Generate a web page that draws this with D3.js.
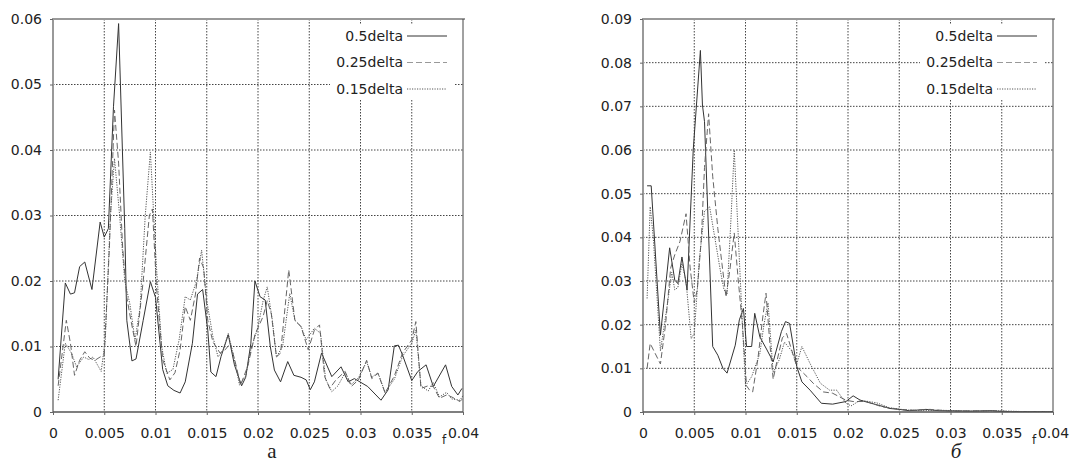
<!DOCTYPE html>
<html>
<head>
<meta charset="utf-8">
<script src="https://cdn.jsdelivr.net/npm/d3@7"></script>
<style>
  body { margin: 0; background: #fff; }
  svg { display: block; }
  text { font-family: "DejaVu Sans", sans-serif; fill: #222; }
</style>
</head>
<body>
<div id="chart"></div>
<script>
// frequency ticks, shared by both panels
var xTicks = [0, 0.005, 0.01, 0.015, 0.02, 0.025, 0.03, 0.035, 0.04];
var xLabels = ["0", "0.005", "0.01", "0.015", "0.02", "0.025", "0.03", "0.035", "0.04"];
var seriesNames = ["0.5delta", "0.25delta", "0.15delta"];

// panel a
var leftTicks = [0, 0.01, 0.02, 0.03, 0.04, 0.05, 0.06];
var leftLabels = ["0", "0.01", "0.02", "0.03", "0.04", "0.05", "0.06"];
var leftSolid = [[0.0005,0.0050],[0.0012,0.0197],[0.0017,0.0180],[0.0021,0.0182],[0.0026,0.0222],[0.0031,0.0229],[0.0038,0.0187],[0.0046,0.0290],[0.0050,0.0267],[0.0054,0.0280],[0.0059,0.0466],[0.0064,0.0593],[0.0070,0.0280],[0.0072,0.0140],[0.0077,0.0078],[0.0081,0.0081],[0.0088,0.0140],[0.0095,0.0199],[0.0100,0.0175],[0.0107,0.0065],[0.0112,0.0040],[0.0118,0.0033],[0.0124,0.0029],[0.0129,0.0046],[0.0136,0.0105],[0.0141,0.0180],[0.0146,0.0187],[0.0151,0.0125],[0.0154,0.0061],[0.0159,0.0054],[0.0164,0.0085],[0.0171,0.0118],[0.0177,0.0072],[0.0184,0.0040],[0.0188,0.0053],[0.0193,0.0104],[0.0197,0.0200],[0.0202,0.0176],[0.0207,0.0171],[0.0212,0.0100],[0.0216,0.0064],[0.0222,0.0046],[0.0229,0.0077],[0.0235,0.0056],[0.0242,0.0053],[0.0247,0.0049],[0.0251,0.0034],[0.0255,0.0046],[0.0262,0.0090],[0.0272,0.0054],[0.0281,0.0069],[0.0288,0.0046],[0.0294,0.0051],[0.0307,0.0039],[0.0320,0.0018],[0.0327,0.0034],[0.0333,0.0101],[0.0337,0.0102],[0.0341,0.0087],[0.0350,0.0048],[0.0356,0.0062],[0.0364,0.0072],[0.0371,0.0039],[0.0383,0.0072],[0.0389,0.0039],[0.0395,0.0026],[0.0399,0.0036]];
var leftDashed = [[0.0005,0.0040],[0.0013,0.0140],[0.0017,0.0105],[0.0021,0.0056],[0.0026,0.0079],[0.0031,0.0092],[0.0036,0.0082],[0.0041,0.0079],[0.0046,0.0084],[0.0050,0.0087],[0.0055,0.0250],[0.0060,0.0461],[0.0064,0.0380],[0.0068,0.0250],[0.0072,0.0175],[0.0076,0.0140],[0.0081,0.0100],[0.0088,0.0200],[0.0094,0.0300],[0.0097,0.0310],[0.0101,0.0190],[0.0107,0.0080],[0.0114,0.0049],[0.0119,0.0060],[0.0124,0.0095],[0.0129,0.0161],[0.0134,0.0140],[0.0139,0.0180],[0.0143,0.0235],[0.0147,0.0220],[0.0151,0.0140],[0.0156,0.0107],[0.0163,0.0090],[0.0168,0.0095],[0.0173,0.0105],[0.0178,0.0075],[0.0183,0.0041],[0.0190,0.0070],[0.0197,0.0118],[0.0205,0.0146],[0.0209,0.0170],[0.0213,0.0150],[0.0218,0.0084],[0.0222,0.0090],[0.0230,0.0217],[0.0236,0.0140],[0.0242,0.0130],[0.0249,0.0095],[0.0255,0.0125],[0.0260,0.0133],[0.0265,0.0054],[0.0270,0.0036],[0.0276,0.0049],[0.0285,0.0062],[0.0291,0.0039],[0.0298,0.0049],[0.0306,0.0079],[0.0311,0.0051],[0.0317,0.0059],[0.0324,0.0029],[0.0333,0.0055],[0.0341,0.0090],[0.0350,0.0110],[0.0354,0.0138],[0.0359,0.0036],[0.0366,0.0040],[0.0371,0.0039],[0.0377,0.0021],[0.0384,0.0026],[0.0389,0.0023],[0.0397,0.0016],[0.0400,0.0021]];
var leftDotted = [[0.0005,0.0018],[0.0012,0.0105],[0.0018,0.0090],[0.0023,0.0069],[0.0030,0.0084],[0.0035,0.0080],[0.0039,0.0084],[0.0047,0.0062],[0.0051,0.0110],[0.0056,0.0300],[0.0060,0.0387],[0.0065,0.0300],[0.0070,0.0200],[0.0075,0.0165],[0.0080,0.0110],[0.0085,0.0160],[0.0090,0.0300],[0.0095,0.0397],[0.0101,0.0220],[0.0106,0.0100],[0.0111,0.0059],[0.0117,0.0065],[0.0123,0.0110],[0.0129,0.0176],[0.0134,0.0171],[0.0140,0.0200],[0.0145,0.0247],[0.0150,0.0170],[0.0156,0.0115],[0.0161,0.0084],[0.0166,0.0095],[0.0171,0.0120],[0.0177,0.0080],[0.0182,0.0041],[0.0188,0.0055],[0.0193,0.0095],[0.0200,0.0130],[0.0205,0.0170],[0.0209,0.0191],[0.0214,0.0140],[0.0218,0.0084],[0.0224,0.0100],[0.0231,0.0181],[0.0236,0.0140],[0.0242,0.0131],[0.0247,0.0110],[0.0255,0.0128],[0.0261,0.0120],[0.0266,0.0050],[0.0272,0.0031],[0.0278,0.0040],[0.0285,0.0060],[0.0291,0.0042],[0.0298,0.0052],[0.0306,0.0077],[0.0311,0.0053],[0.0317,0.0060],[0.0324,0.0030],[0.0333,0.0050],[0.0341,0.0085],[0.0350,0.0105],[0.0354,0.0125],[0.0359,0.0040],[0.0366,0.0032],[0.0371,0.0045],[0.0377,0.0023],[0.0384,0.0030],[0.0389,0.0020],[0.0397,0.0018],[0.0400,0.0025]];

// panel б
var rightTicks = [0, 0.01, 0.02, 0.03, 0.04, 0.05, 0.06, 0.07, 0.08, 0.09];
var rightLabels = ["0", "0.01", "0.02", "0.03", "0.04", "0.05", "0.06", "0.07", "0.08", "0.09"];
var rightSolid = [[0.0004,0.0518],[0.0008,0.0518],[0.0017,0.0176],[0.0026,0.0376],[0.0031,0.0302],[0.0034,0.0294],[0.0038,0.0355],[0.0043,0.0279],[0.0049,0.0600],[0.0056,0.0828],[0.0058,0.0703],[0.0060,0.0665],[0.0068,0.0150],[0.0073,0.0130],[0.0078,0.0100],[0.0082,0.0089],[0.0090,0.0153],[0.0094,0.0211],[0.0098,0.0237],[0.0101,0.0150],[0.0106,0.0150],[0.0109,0.0226],[0.0114,0.0172],[0.0121,0.0142],[0.0127,0.0115],[0.0135,0.0184],[0.0139,0.0207],[0.0143,0.0203],[0.0150,0.0104],[0.0155,0.0069],[0.0163,0.0050],[0.0174,0.0020],[0.0185,0.0018],[0.0198,0.0024],[0.0205,0.0037],[0.0212,0.0027],[0.0221,0.0021],[0.0229,0.0016],[0.0241,0.0008],[0.0250,0.0006],[0.0260,0.0003],[0.0276,0.0006],[0.0289,0.0003],[0.0320,0.0002],[0.0341,0.0003],[0.0350,0.0001],[0.0400,0.0001]];
var rightDashed = [[0.0004,0.0100],[0.0007,0.0157],[0.0017,0.0110],[0.0022,0.0200],[0.0027,0.0330],[0.0031,0.0360],[0.0036,0.0390],[0.0042,0.0454],[0.0046,0.0330],[0.0050,0.0250],[0.0053,0.0280],[0.0057,0.0400],[0.0060,0.0560],[0.0064,0.0683],[0.0068,0.0540],[0.0073,0.0420],[0.0077,0.0340],[0.0081,0.0263],[0.0085,0.0330],[0.0089,0.0410],[0.0093,0.0300],[0.0097,0.0200],[0.0101,0.0060],[0.0104,0.0050],[0.0107,0.0046],[0.0112,0.0120],[0.0117,0.0220],[0.0120,0.0272],[0.0124,0.0150],[0.0127,0.0075],[0.0131,0.0120],[0.0136,0.0170],[0.0140,0.0180],[0.0144,0.0150],[0.0150,0.0104],[0.0160,0.0081],[0.0166,0.0066],[0.0176,0.0046],[0.0185,0.0043],[0.0198,0.0027],[0.0205,0.0024],[0.0218,0.0024],[0.0233,0.0012],[0.0250,0.0006],[0.0265,0.0004],[0.0280,0.0006],[0.0300,0.0002],[0.0340,0.0003],[0.0360,0.0001],[0.0400,0.0001]];
var rightDotted = [[0.0004,0.0260],[0.0007,0.0470],[0.0010,0.0400],[0.0017,0.0140],[0.0024,0.0250],[0.0028,0.0320],[0.0031,0.0280],[0.0034,0.0285],[0.0038,0.0340],[0.0042,0.0300],[0.0047,0.0168],[0.0050,0.0180],[0.0055,0.0350],[0.0060,0.0460],[0.0065,0.0470],[0.0070,0.0400],[0.0075,0.0330],[0.0079,0.0280],[0.0082,0.0270],[0.0086,0.0450],[0.0089,0.0600],[0.0093,0.0400],[0.0097,0.0200],[0.0100,0.0060],[0.0106,0.0081],[0.0114,0.0134],[0.0118,0.0200],[0.0122,0.0250],[0.0127,0.0090],[0.0133,0.0120],[0.0138,0.0160],[0.0145,0.0140],[0.0150,0.0110],[0.0155,0.0150],[0.0163,0.0111],[0.0173,0.0066],[0.0182,0.0050],[0.0189,0.0050],[0.0198,0.0020],[0.0203,0.0014],[0.0212,0.0027],[0.0228,0.0021],[0.0240,0.0010],[0.0255,0.0005],[0.0270,0.0003],[0.0290,0.0004],[0.0320,0.0002],[0.0345,0.0003],[0.0370,0.0001],[0.0400,0.0001]];

var styles = [
  {stroke: "#333", dash: null},
  {stroke: "#666", dash: "6,3"},
  {stroke: "#555", dash: "1.2,1.3"}
];

var svg = d3.select("#chart").append("svg")
  .attr("width", 1072)
  .attr("height", 464);

svg.append("rect").attr("width", 1072).attr("height", 464).attr("fill", "#fff");

function drawPanel(left, yTicks, yLabels, series, caption, italic) {
  var top = 19, bottom = 412, w = 410;
  var g = svg.append("g").attr("transform", "translate(" + left + ",0)");

  var x = d3.scaleLinear().domain([0, 0.04]).range([0, w]);
  var y = d3.scaleLinear().domain([0, yTicks[yTicks.length - 1]]).range([bottom, top]);

  // grid
  g.selectAll(".vg").data(xTicks.slice(1, -1)).enter().append("line")
    .attr("x1", d => x(d)).attr("x2", d => x(d))
    .attr("y1", top).attr("y2", bottom)
    .attr("stroke", "#444").attr("stroke-width", 1).attr("stroke-dasharray", "1.5,1.5");
  g.selectAll(".hg").data(yTicks.slice(1, -1)).enter().append("line")
    .attr("x1", 0).attr("x2", w)
    .attr("y1", d => y(d)).attr("y2", d => y(d))
    .attr("stroke", "#444").attr("stroke-width", 1).attr("stroke-dasharray", "1.5,1.5");

  // legend box hides grid
  g.append("rect").attr("x", w - 133).attr("y", 25).attr("width", 125).attr("height", 75).attr("fill", "#fff");

  // series
  var line = d3.line().x(d => x(d[0])).y(d => y(d[1]));
  series.forEach(function(s, i) {
    g.append("path").datum(s)
      .attr("d", line)
      .attr("fill", "none")
      .attr("stroke", styles[i].stroke)
      .attr("stroke-width", 1)
      .attr("stroke-dasharray", styles[i].dash);
  });

  // frame
  g.append("line").attr("x1", 0).attr("x2", w + 2).attr("y1", top).attr("y2", top)
    .attr("stroke", "#999").attr("stroke-width", 2);
  g.append("line").attr("x1", 0).attr("x2", 0).attr("y1", top - 1).attr("y2", bottom)
    .attr("stroke", "#999").attr("stroke-width", 2);
  g.append("line").attr("x1", w).attr("x2", w).attr("y1", top).attr("y2", bottom)
    .attr("stroke", "#444").attr("stroke-width", 1);
  g.append("line").attr("x1", 0).attr("x2", w).attr("y1", bottom).attr("y2", bottom)
    .attr("stroke", "#555").attr("stroke-width", 1.5);

  // axes
  var xAxis = d3.axisBottom(x).tickValues(xTicks)
    .tickFormat((d, i) => xLabels[i]).tickSizeInner(3).tickSizeOuter(0).tickPadding(13);
  var yAxis = d3.axisLeft(y).tickValues(yTicks)
    .tickFormat((d, i) => yLabels[i]).tickSizeInner(3).tickSizeOuter(0).tickPadding(8);

  var gx = g.append("g").attr("transform", "translate(0," + bottom + ")").call(xAxis);
  var gy = g.append("g").call(yAxis);
  [gx, gy].forEach(function(a) {
    a.select(".domain").remove();
    a.selectAll("line").attr("stroke", "#666");
    a.selectAll("text").attr("font-size", 14).attr("font-family", "DejaVu Sans").attr("fill", "#222");
  });

  // f mark
  g.append("text").attr("x", w - 19).attr("y", 444)
    .attr("font-size", 12).attr("text-anchor", "middle").text("f");

  // legend
  series.forEach(function(s, i) {
    var ly = 36 + i * 26.5;
    g.append("text").attr("x", w - 60).attr("y", ly).attr("dy", "0.35em")
      .attr("text-anchor", "end").attr("font-size", 14).text(seriesNames[i]);
    g.append("line").attr("x1", w - 56).attr("x2", w - 16).attr("y1", ly).attr("y2", ly)
      .attr("stroke", i == 1 ? "#999" : styles[i].stroke).attr("stroke-width", 1)
      .attr("stroke-dasharray", styles[i].dash);
  });

  // caption
  g.append("text").attr("x", caption.x).attr("y", 458)
    .attr("text-anchor", "middle")
    .style("font-family", "'Liberation Serif', serif")
    .style("font-style", italic ? "italic" : "normal")
    .attr("font-size", 21).text(caption.t);
}

drawPanel(53, leftTicks, leftLabels, [leftSolid, leftDashed, leftDotted], {x: 219, t: "а"}, false);
drawPanel(643, rightTicks, rightLabels, [rightSolid, rightDashed, rightDotted], {x: 313, t: "б"}, true);
</script>
</body>
</html>
